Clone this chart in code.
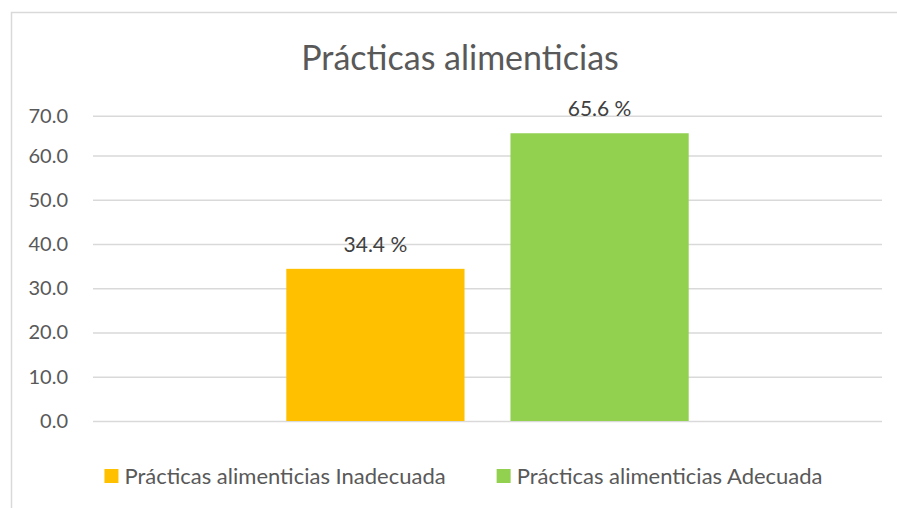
<!DOCTYPE html>
<html>
<head>
<meta charset="utf-8">
<script src="https://cdn.jsdelivr.net/npm/d3@7"></script>
<style>
  body { margin: 0; background: #fff; }
  svg { display: block; font-family: Lato, "Open Sans", sans-serif; }
</style>
</head>
<body>
<div id="chart"></div>
<script>
// Chart data
const title = "Prácticas alimenticias";
const category = [""];
const seriesNames = [
  "Prácticas alimenticias Inadecuada",
  "Prácticas alimenticias Adecuada",
];
const seriesValues = [34.4, 65.6];
const seriesColours = ["#FFC000", "#92D050"];
const yTicks = [0, 10, 20, 30, 40, 50, 60, 70];

const width = 897;
const height = 508;
const textColour = "#595959";
const gridColour = "#d9d9d9";

const svg = d3
  .select("#chart")
  .append("svg")
  .attr("width", width)
  .attr("height", height);

// Chart border (runs off the right and bottom of the picture)
svg
  .append("rect")
  .attr("x", 11.5)
  .attr("y", 12.5)
  .attr("width", width + 20)
  .attr("height", height + 20)
  .attr("fill", "#fff")
  .attr("stroke", gridColour)
  .attr("stroke-width", 1.5);

// Title
svg
  .append("text")
  .attr("x", 460)
  .attr("y", 70)
  .attr("text-anchor", "middle")
  .attr("fill", textColour)
  .style("font-size", "34px")
  .text(title);

// Plot area
const plot = { left: 93, right: 882, top: 115.7, bottom: 421 };

// y-scale (top gridline sits a little closer than the rest in the picture)
const yScale = d3
  .scaleLinear()
  .domain([0, 60, 70])
  .range([plot.bottom, 155.6, plot.top]);

// x-scales: one category, two series side by side
const x0 = d3
  .scaleBand()
  .domain(category)
  .range([plot.left, plot.right])
  .paddingInner(0.49)
  .paddingOuter(0.245);

const x1 = d3
  .scaleBand()
  .domain(seriesNames)
  .range([0, x0.bandwidth()])
  .paddingInner(0.205);

// Gridlines
const yAxisGrid = d3
  .axisLeft(yScale)
  .tickValues(yTicks)
  .tickSize(plot.left - plot.right)
  .tickFormat("");

const gridG = svg
  .append("g")
  .attr("transform", `translate(${plot.left}, 0)`)
  .call(yAxisGrid);
gridG.select(".domain").remove();
gridG
  .selectAll("line")
  .attr("stroke", gridColour)
  .attr("stroke-width", 1.5);

// y-axis labels
const yAxis = d3
  .axisLeft(yScale)
  .tickValues(yTicks)
  .tickSize(0)
  .tickPadding(25)
  .tickFormat(d3.format(".1f"));

const yAxisG = svg
  .append("g")
  .attr("transform", `translate(${plot.left}, 0)`)
  .call(yAxis);
yAxisG.select(".domain").remove();
yAxisG
  .selectAll("text")
  .attr("fill", textColour)
  .style("font-size", "20px")
  .style("font-family", "Lato, sans-serif");

// Bars
const bars = seriesNames.map((name, i) => ({
  name,
  value: seriesValues[i],
  colour: seriesColours[i],
}));

const barG = svg
  .append("g")
  .attr("transform", `translate(${x0(category[0])}, 0)`);

barG
  .selectAll("rect")
  .data(bars)
  .enter()
  .append("rect")
  .attr("x", (d) => x1(d.name))
  .attr("y", (d) => yScale(d.value))
  .attr("width", x1.bandwidth())
  .attr("height", (d) => yScale(0) - yScale(d.value))
  .attr("fill", (d) => d.colour);

// Data labels
barG
  .selectAll(".label")
  .data(bars)
  .enter()
  .append("text")
  .attr("class", "label")
  .attr("x", (d) => x1(d.name) + x1.bandwidth() / 2)
  .attr("y", (d) => yScale(d.value) - 17)
  .attr("text-anchor", "middle")
  .attr("fill", "#404040")
  .style("font-size", "21px")
  .text((d) => d3.format(".1f")(d.value) + " %");

// Legend, centred under the chart
const legendG = svg.append("g");
const items = legendG
  .selectAll("g")
  .data(bars)
  .enter()
  .append("g");

items
  .append("rect")
  .attr("width", 14)
  .attr("height", 14)
  .attr("y", 469)
  .attr("fill", (d) => d.colour);

items
  .append("text")
  .attr("x", 20)
  .attr("y", 484)
  .attr("fill", textColour)
  .style("font-size", "22px")
  .text((d) => d.name);

const itemGap = 51;
let widths = [];
items.each(function () {
  widths.push(this.getBBox().width);
});
const totalWidth = d3.sum(widths) + itemGap * (widths.length - 1);
let xPos = 463.5 - totalWidth / 2;
items.attr("transform", (d, i) => {
  const t = `translate(${xPos}, 0)`;
  xPos += widths[i] + itemGap;
  return t;
});
</script>
</body>
</html>
